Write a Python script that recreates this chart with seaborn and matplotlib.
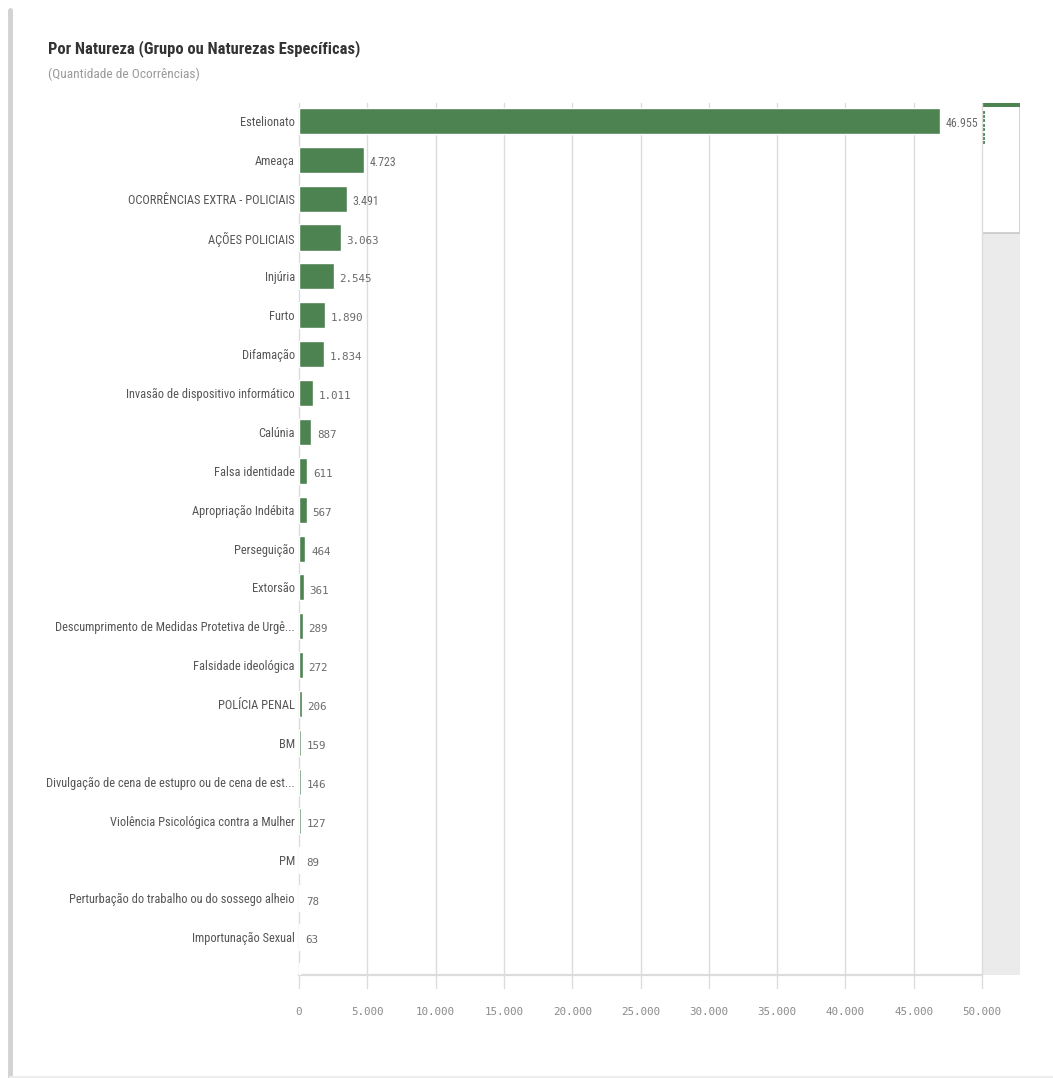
import matplotlib
matplotlib.use("Agg")
import matplotlib.pyplot as plt
import matplotlib.patches as mpatches
import matplotlib.lines as mlines
from matplotlib import font_manager
import seaborn as sns
import pandas as pd

# Occurrence counts by nature of the incident
categories = [
    "Estelionato",
    "Ameaça",
    "OCORRÊNCIAS EXTRA - POLICIAIS",
    "AÇÕES POLICIAIS",
    "Injúria",
    "Furto",
    "Difamação",
    "Invasão de dispositivo informático",
    "Calúnia",
    "Falsa identidade",
    "Apropriação Indébita",
    "Perseguição",
    "Extorsão",
    "Descumprimento de Medidas Protetiva de Urgê...",
    "Falsidade ideológica",
    "POLÍCIA PENAL",
    "BM",
    "Divulgação de cena de estupro ou de cena de est...",
    "Violência Psicológica contra a Mulher",
    "PM",
    "Perturbação do trabalho ou do sossego alheio",
    "Importunação Sexual",
    " ",
]
values = [46955, 4723, 3491, 3063, 2545, 1890, 1834, 1011, 887, 611, 567,
          464, 361, 289, 272, 206, 159, 146, 127, 89, 78, 63, 55]
value_labels = ["46.955", "4.723", "3.491", "3.063", "2.545", "1.890", "1.834",
                "1.011", "887", "611", "567", "464", "361", "289", "272", "206",
                "159", "146", "127", "89", "78", "63", ""]
x_ticks = [0, 5000, 10000, 15000, 20000, 25000, 30000, 35000, 40000, 45000, 50000]
x_tick_labels = ["0", "5.000", "10.000", "15.000", "20.000", "25.000",
                 "30.000", "35.000", "40.000", "45.000", "50.000"]

df = pd.DataFrame({"natureza": categories, "ocorrencias": values})

sns.set_theme(style="white")

# prefer a condensed face when one is installed
installed = {f.name for f in font_manager.fontManager.ttflist}
condensed = [n for n in ("Roboto Condensed", "Liberation Sans Narrow") if n in installed]
if condensed:
    LABEL_FONT = [condensed[0], "DejaVu Sans"]
    label_size, title_size, sub_size, big_val_size = 8.9, 11.9, 9.6, 8.6
else:
    LABEL_FONT = ["Roboto", "DejaVu Sans"]
    label_size, title_size, sub_size, big_val_size = 7.4, 10.0, 8.2, 7.2
MONO_FONT = ["DejaVu Sans Mono", "Liberation Mono"]
plt.rcParams["font.family"] = LABEL_FONT

BAR_GREEN = "#4d8251"
GRID = "#dcdcdc"

W, H = 1053, 1078
fig = plt.figure(figsize=(W / 100, H / 100), dpi=100)
fig.patch.set_facecolor("white")

ax_l, ax_r, ax_t, ax_b = 299, 982, 103, 975

# scrollbar panel on the right (drawn beneath the main axes)
sb = fig.add_axes([ax_r / W, 1 - ax_b / H, (1020 - ax_r) / W, (ax_b - ax_t) / H])
sb.set_zorder(0)
sb.set_xlim(0, 1)
sb.set_ylim(1, 0)
sb.set_facecolor("#ebebeb")
for spine in sb.spines.values():
    spine.set_visible(False)
sb.set_xticks([])
sb.set_yticks([])
thumb_h = (233 - ax_t) / (ax_b - ax_t)
sb.add_patch(mpatches.Rectangle((0, 0), 1, thumb_h, facecolor="white",
                                edgecolor="#c8c8c8", lw=1.2))
sb.add_patch(mpatches.Rectangle((0, 0), 1, 0.005, facecolor=BAR_GREEN,
                                edgecolor="none"))
sb.plot([0.03] * 8, [0.01 + 0.005 * k for k in range(8)], ls="none",
        marker="s", ms=1.2, color=BAR_GREEN)

ax = fig.add_axes([ax_l / W, 1 - ax_b / H, (ax_r - ax_l) / W, (ax_b - ax_t) / H])
ax.set_zorder(2)
ax.patch.set_alpha(0)

sns.barplot(data=df, x="ocorrencias", y="natureza", orient="h",
            color=BAR_GREEN, saturation=1, width=0.67, ax=ax, zorder=3)

ax.set_xlim(0, 50000)
ax.set_ylim(21.97, -0.46)

for spine in ax.spines.values():
    spine.set_visible(False)
ax.axhline(21.97, color=GRID, lw=1.6, zorder=2, clip_on=False)

# vertical gridlines running slightly below the baseline
for t in x_ticks:
    ax.add_line(mlines.Line2D([t, t], [-0.46, 22.3], color=GRID, lw=1.0,
                              zorder=1, clip_on=False))

ax.set_xticks(x_ticks)
ax.set_xticklabels(x_tick_labels, family=MONO_FONT, fontsize=7.8, color="#8a8a8a")
ax.tick_params(axis="x", length=0, pad=23)
ax.tick_params(axis="y", length=0, pad=3, labelsize=label_size, labelcolor="#555555")
ax.set_xlabel("")
ax.set_ylabel("")

# value labels next to each bar; the three largest use the proportional face
for i, (v, lab) in enumerate(zip(values, value_labels)):
    if not lab:
        continue
    if i < 3:
        ax.text(v + 420, i + 0.08, lab, va="center", ha="left",
                family=LABEL_FONT, fontsize=big_val_size, color="#6a6a6a", zorder=4)
    else:
        ax.text(v + 420, i + 0.08, lab, va="center", ha="left",
                family=MONO_FONT, fontsize=7.8, color="#6a6a6a", zorder=4)

# title and subtitle
fig.text(48 / W, 1 - 49 / H, "Por Natureza (Grupo ou Naturezas Específicas)",
         fontsize=title_size, fontweight="bold", color="#333333",
         va="center", ha="left")
fig.text(48 / W, 1 - 74 / H, "(Quantidade de Ocorrências)",
         fontsize=sub_size, color="#9a9a9a", va="center", ha="left")

# frame edges of the panel
fig.add_artist(mlines.Line2D([10 / W, 10 / W], [1 - 10 / H, 0.0],
                             color="#d2d2d2", lw=3.5))
fig.add_artist(mlines.Line2D([10 / W, 1.0], [1 / H, 1 / H],
                             color="#ededed", lw=1.5))

fig.savefig("out.png", dpi=100, facecolor="white")
